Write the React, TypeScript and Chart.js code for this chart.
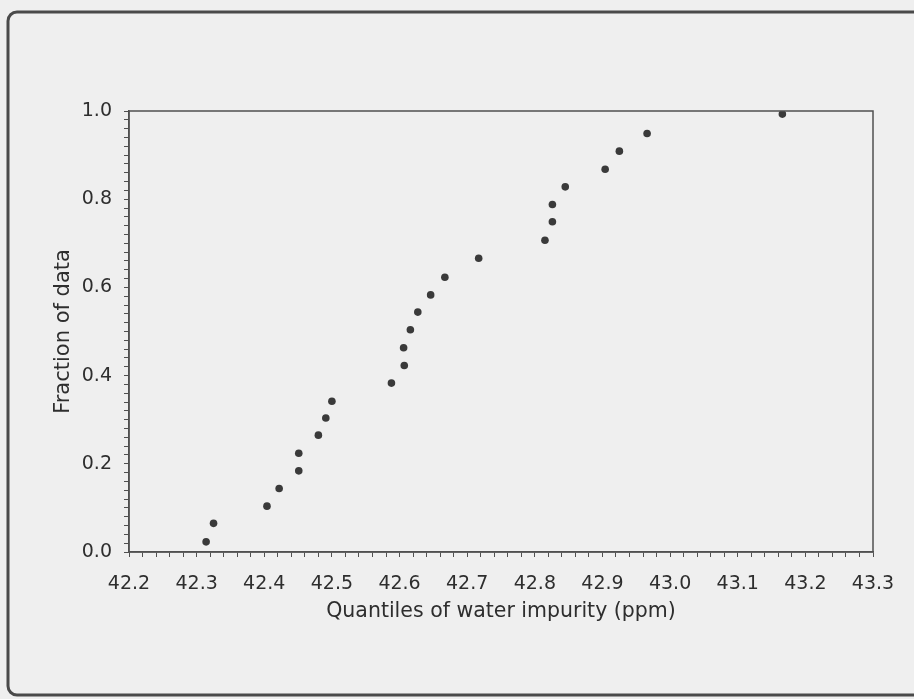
import React, { useEffect, useRef } from "react";
import { Chart, registerables } from "chart.js";

Chart.register(...registerables);

const quantiles: number[] = [
  42.314, 42.325, 42.404, 42.422, 42.451, 42.451, 42.48, 42.491, 42.5,
  42.588, 42.607, 42.606, 42.616, 42.627, 42.646, 42.667, 42.717,
  42.815, 42.826, 42.826, 42.845, 42.904, 42.925, 42.966, 43.166,
];
const fractions: number[] = [
  0.023, 0.065, 0.104, 0.144, 0.184, 0.224, 0.265, 0.304, 0.342,
  0.383, 0.423, 0.463, 0.504, 0.544, 0.583, 0.623, 0.666,
  0.707, 0.749, 0.788, 0.828, 0.868, 0.909, 0.949, 0.993,
];
const xTitle = "Quantiles of water impurity (ppm)";
const yTitle = "Fraction of data";
const xMin = 42.2;
const xMax = 43.3;
const yMin = 0;
const yMax = 1.0;

const FONT = "'DejaVu Sans', 'Liberation Sans', Arial, sans-serif";
const INK = "#2e2e2e";
const LINE = "#505050";

const framePlugin = {
  id: "frame",
  beforeDraw(chart: any) {
    const { ctx, width, height } = chart;
    ctx.save();
    ctx.fillStyle = "#efefef";
    ctx.fillRect(0, 0, width, height);
    ctx.strokeStyle = "#4a4a4a";
    ctx.lineWidth = 3;
    const x0 = 8, y0 = 12, x1 = width + 10, y1 = 695, r = 9;
    ctx.beginPath();
    ctx.moveTo(x0 + r, y0);
    ctx.lineTo(x1, y0);
    ctx.moveTo(x0 + r, y0);
    ctx.arcTo(x0, y0, x0, y0 + r, r);
    ctx.lineTo(x0, y1 - r);
    ctx.arcTo(x0, y1, x0 + r, y1, r);
    ctx.lineTo(x1, y1);
    ctx.stroke();
    ctx.restore();
  },
  afterDraw(chart: any) {
    const { ctx, chartArea } = chart;
    ctx.save();
    ctx.strokeStyle = LINE;
    ctx.lineWidth = 1.5;
    ctx.strokeRect(
      chartArea.left,
      chartArea.top,
      chartArea.right - chartArea.left,
      chartArea.bottom - chartArea.top
    );
    ctx.restore();
  },
};

export default function App() {
  const ref = useRef<HTMLCanvasElement | null>(null);

  useEffect(() => {
    if (!ref.current) return;
    const points = quantiles.map((q, i) => ({ x: q, y: fractions[i] }));
    const chart = new Chart(ref.current, {
      type: "scatter",
      data: {
        datasets: [
          {
            data: points,
            backgroundColor: "#3a3a3a",
            borderWidth: 0,
            pointRadius: 3.8,
          },
        ],
      },
      options: {
        animation: false,
        responsive: false,
        layout: { padding: { left: 47, top: 111, right: 41, bottom: 71 } },
        plugins: {
          legend: { display: false },
          tooltip: { enabled: false },
        },
        scales: {
          x: {
            type: "linear",
            min: xMin,
            max: xMax,
            afterFit(scale: any) {
              scale.height = 76;
            },
            border: { display: true, color: LINE, width: 1.5 },
            grid: {
              display: true,
              drawOnChartArea: false,
              drawTicks: true,
              tickLength: 5,
              color: LINE,
            },
            ticks: {
              stepSize: 0.02,
              autoSkip: false,
              maxRotation: 0,
              padding: 16,
              color: INK,
              font: { family: FONT, size: 19 },
              callback: (value: any) => {
                const v = Number(value);
                const t = v * 10;
                return Math.abs(t - Math.round(t)) < 1e-6 ? v.toFixed(1) : "";
              },
            },
            title: {
              display: true,
              text: xTitle,
              color: INK,
              font: { family: FONT, size: 20.5 },
              padding: { top: 4, bottom: 4 },
            },
          },
          y: {
            type: "linear",
            min: yMin,
            max: yMax,
            afterFit(scale: any) {
              scale.width = 82;
            },
            border: { display: true, color: LINE, width: 1.5 },
            grid: {
              display: true,
              drawOnChartArea: false,
              drawTicks: true,
              tickLength: 5,
              color: LINE,
            },
            ticks: {
              stepSize: 0.02,
              autoSkip: false,
              padding: 12,
              color: INK,
              font: { family: FONT, size: 19 },
              callback: (value: any) => {
                const v = Number(value);
                const t = v * 5;
                return Math.abs(t - Math.round(t)) < 1e-6 ? v.toFixed(1) : "";
              },
            },
            title: {
              display: true,
              text: yTitle,
              color: INK,
              font: { family: FONT, size: 21 },
              padding: { top: 4, bottom: 4 },
            },
          },
        },
      },
      plugins: [framePlugin],
    });
    return () => chart.destroy();
  }, []);

  return (
    <div
      style={{
        position: "fixed",
        left: 0,
        top: 0,
        width: 914,
        height: 699,
        background: "#efefef",
      }}
    >
      <canvas ref={ref} width={914} height={699} />
    </div>
  );
}
